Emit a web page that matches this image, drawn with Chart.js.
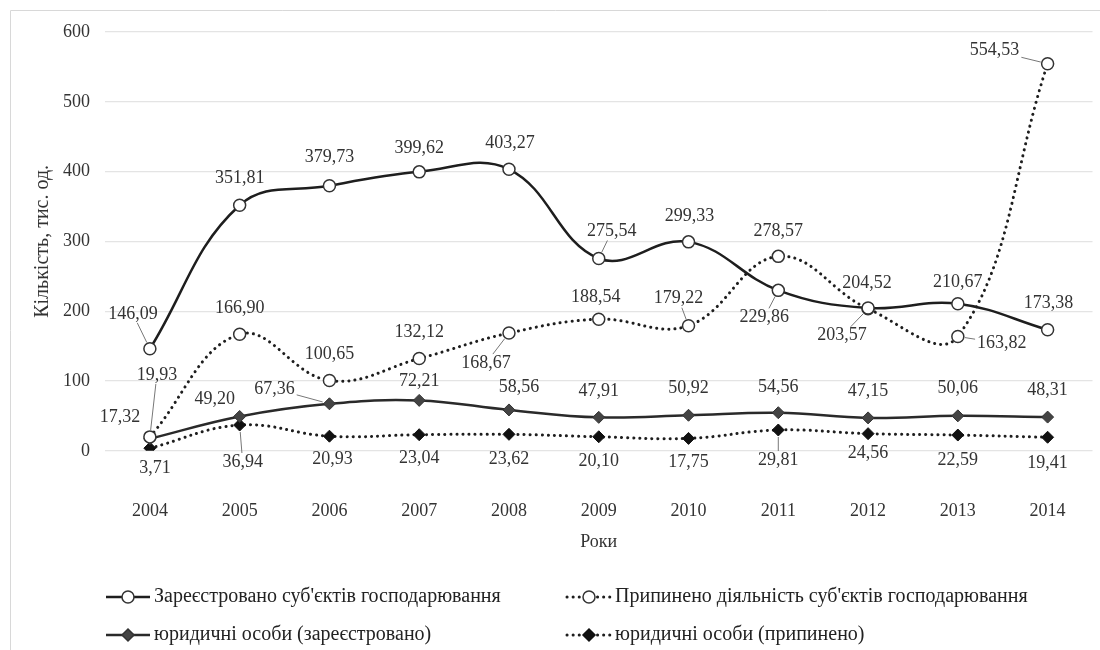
<!DOCTYPE html>
<html>
<head>
  <title>Кількість суб'єктів господарювання</title>
  <meta charset="utf-8">
  <script src="https://cdn.jsdelivr.net/npm/chart.js"></script>
  <style>
    body { margin: 0; background: #fff; }
    #wrap { width: 1100px; height: 650px; position: relative; }
  </style>
</head>
<body>

<div id="wrap"><canvas id="chart"></canvas></div>

<script>
const years = ['2004', '2005', '2006', '2007', '2008', '2009', '2010', '2011', '2012', '2013', '2014'];
const registered = [146.09, 351.81, 379.73, 399.62, 403.27, 275.54, 299.33, 229.86, 204.52, 210.67, 173.38];
const stopped = [19.93, 166.90, 100.65, 132.12, 168.67, 188.54, 179.22, 278.57, 203.57, 163.82, 554.53];
const legalRegistered = [17.32, 49.20, 67.36, 72.21, 58.56, 47.91, 50.92, 54.56, 47.15, 50.06, 48.31];
const legalStopped = [3.71, 36.94, 20.93, 23.04, 23.62, 20.10, 17.75, 29.81, 24.56, 22.59, 19.41];
const seriesNames = [
  "Зареєстровано суб'єктів господарювання",
  "Припинено діяльність суб'єктів господарювання",
  "юридичні особи (зареєстровано)",
  "юридичні особи (припинено)"
];
const yMin = 0, yMax = 600, yStep = 100;

const FONT = '"Liberation Serif", "DejaVu Serif", serif';
const dots = [0.1, 6];

// where each value label sits relative to its point, and which get a leader line
const labelOffsets = [
  [[-17,-35],[0,-27],[0,-28],[0,-24],[1,-26],[13,-27],[1,-26],[-14,27],[-1,-25],[0,-21],[1,-27]],
  [[7,-62],[0,-26],[0,-26],[0,-26],[-23,30],[-3,-22],[-10,-27],[0,-25],[-26,27],[44,7],[-53,-13]],
  [[-30,-21],[-25,-17],[-55,-15],[0,-19],[10,-23],[0,-26],[0,-27],[0,-25],[0,-27],[0,-28],[0,-27]],
  [[5,20],[3,37],[3,23],[0,24],[0,25],[0,24],[0,24],[0,30],[0,20],[0,25],[0,26]]
];
const leaders = [[0, 5, 7], [0, 4, 6, 8, 9, 10], [2], [1, 7]];

function fmt(v) { return v.toFixed(2).replace('.', ','); }

const valueLabels = {
  id: 'valueLabels',
  afterDatasetsDraw(chart) {
    const ctx = chart.ctx;
    ctx.save();
    ctx.font = '18px ' + FONT;
    ctx.textAlign = 'center';
    ctx.textBaseline = 'middle';
    chart.data.datasets.forEach((ds, i) => {
      chart.getDatasetMeta(i).data.forEach((pt, j) => {
        const [dx, dy] = labelOffsets[i][j];
        const lx = pt.x + dx, ly = pt.y + dy;
        const text = fmt(ds.data[j]);
        if (leaders[i].includes(j)) {
          const w = ctx.measureText(text).width / 2 + 2, h = 9;
          const len = Math.hypot(dx, dy);
          const ux = dx / len, uy = dy / len;
          const t = Math.min(ux ? w / Math.abs(ux) : 1e9, uy ? h / Math.abs(uy) : 1e9);
          ctx.strokeStyle = '#777';
          ctx.lineWidth = 1;
          ctx.beginPath();
          ctx.moveTo(pt.x + ux * 7, pt.y + uy * 7);
          ctx.lineTo(lx - ux * t, ly - uy * t);
          ctx.stroke();
        }
        ctx.fillStyle = '#333';
        ctx.fillText(text, lx, ly);
      });
    });
    ctx.restore();
  }
};

const legendAndFrame = {
  id: 'legendAndFrame',
  beforeDraw(chart) {
    const ctx = chart.ctx;
    ctx.save();
    ctx.strokeStyle = '#d8d8d8';
    ctx.lineWidth = 1;
    ctx.beginPath();
    ctx.moveTo(10.5, 650);
    ctx.lineTo(10.5, 10.5);
    ctx.lineTo(1100, 10.5);
    ctx.stroke();
    ctx.restore();
  },
  afterDraw(chart) {
    const ctx = chart.ctx;
    const spots = [[106, 597], [567, 597], [106, 635], [567, 635]];
    ctx.save();
    chart.data.datasets.forEach((ds, i) => {
      const [x, y] = spots[i];
      ctx.strokeStyle = ds.borderColor;
      ctx.lineWidth = ds.borderWidth;
      ctx.lineCap = ds.borderCapStyle || 'butt';
      ctx.setLineDash(ds.borderDash || []);
      ctx.beginPath();
      ctx.moveTo(x, y);
      ctx.lineTo(x + 44, y);
      ctx.stroke();
      ctx.setLineDash([]);
      ctx.fillStyle = ds.pointBackgroundColor;
      ctx.strokeStyle = ds.pointBorderColor;
      ctx.lineWidth = 1.5;
      const cx = x + 22, r = ds.pointRadius;
      ctx.beginPath();
      if (ds.pointStyle === 'rectRot') {
        ctx.moveTo(cx, y - r); ctx.lineTo(cx + r, y); ctx.lineTo(cx, y + r); ctx.lineTo(cx - r, y);
        ctx.closePath();
      } else {
        ctx.arc(cx, y, r, 0, Math.PI * 2);
      }
      ctx.fill();
      ctx.stroke();
      ctx.fillStyle = '#222';
      ctx.font = '20px ' + FONT;
      ctx.textAlign = 'left';
      ctx.textBaseline = 'middle';
      ctx.fillText(seriesNames[i], x + 48, y);
    });
    ctx.restore();
  }
};

new Chart(document.getElementById('chart'), {
  type: 'line',
  data: {
    labels: years,
    datasets: [
      {
        label: seriesNames[0], data: registered,
        borderColor: '#1e1e1e', borderWidth: 2.5, tension: 0.4,
        pointStyle: 'circle', pointRadius: 6, pointBackgroundColor: '#fff', pointBorderColor: '#333', pointBorderWidth: 1.5
      },
      {
        label: seriesNames[1], data: stopped,
        borderColor: '#1e1e1e', borderWidth: 3, borderDash: dots, borderCapStyle: 'round', tension: 0.4,
        pointStyle: 'circle', pointRadius: 6, pointBackgroundColor: '#fff', pointBorderColor: '#333', pointBorderWidth: 1.5
      },
      {
        label: seriesNames[2], data: legalRegistered,
        borderColor: '#2a2a2a', borderWidth: 2.5, tension: 0.4,
        pointStyle: 'rectRot', pointRadius: 6, pointBackgroundColor: '#444', pointBorderColor: '#333', pointBorderWidth: 1
      },
      {
        label: seriesNames[3], data: legalStopped,
        borderColor: '#1e1e1e', borderWidth: 3, borderDash: dots, borderCapStyle: 'round', tension: 0.4,
        pointStyle: 'rectRot', pointRadius: 6, pointBackgroundColor: '#111', pointBorderColor: '#111', pointBorderWidth: 1
      }
    ]
  },
  options: {
    responsive: true,
    maintainAspectRatio: false,
    animation: false,
    layout: { padding: { top: 32, right: 1, bottom: 93, left: 23 } },
    plugins: { legend: { display: false }, tooltip: { enabled: false } },
    scales: {
      x: {
        offset: true,
        grid: { display: true, drawOnChartArea: false, drawTicks: true, tickLength: 25, color: 'rgba(0,0,0,0)' },
        border: { display: false },
        ticks: { color: '#333', font: { family: FONT, size: 18 }, padding: 25 },
        title: { display: true, text: 'Роки', color: '#333', font: { family: FONT, size: 18 }, padding: { top: -16, bottom: 4 } }
      },
      y: {
        min: yMin, max: yMax,
        grid: { color: '#e4e4e4', lineWidth: 1.2, drawTicks: false },
        border: { display: false },
        ticks: { stepSize: yStep, color: '#333', font: { family: FONT, size: 18 }, padding: 15 },
        title: { display: true, text: 'Кількість, тис. од.', color: '#333', font: { family: FONT, size: 20 }, padding: { top: 8, bottom: -7 } }
      }
    }
  },
  plugins: [valueLabels, legendAndFrame]
});
</script>
</body>
</html>
